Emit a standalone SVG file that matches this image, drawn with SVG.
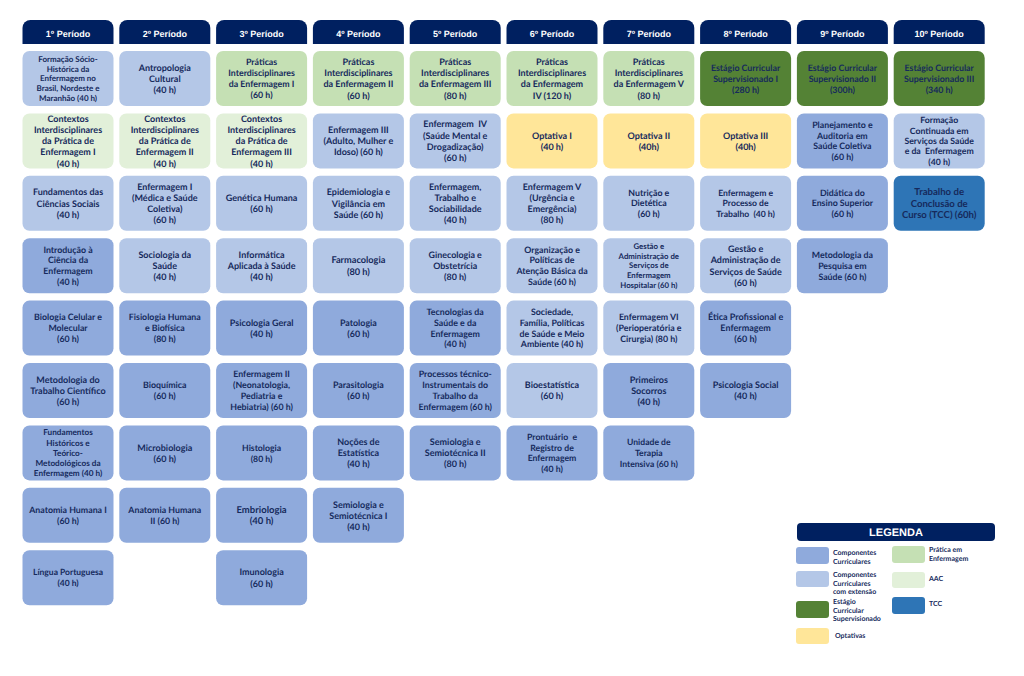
<svg xmlns="http://www.w3.org/2000/svg" width="1024" height="676" viewBox="0 0 1024 676" text-rendering="geometricPrecision">
<style>
.hd{fill:#002060}
.ht{font-family:"Liberation Sans",Arial,sans-serif;font-weight:bold;font-size:9px;fill:#fff;text-anchor:middle}
.b{rx:7;ry:7}
.cc{fill:#8faadc}
.ce{fill:#b4c7e7}
.pr{fill:#c5e0b4}
.aac{fill:#e2f0d9}
.es{fill:#548235}
.tcc{fill:#2e75b6}
.op{fill:#ffe699}
text.c{font-family:Lato,"Open Sans",sans-serif;font-weight:bold;fill:#162a5c;text-anchor:middle}
.lg{font-family:Lato,"Open Sans",sans-serif;font-weight:bold;font-size:7px;fill:#162a5c}
</style>
<rect width="1024" height="676" fill="#fff"/>
<g id="headers">
<path class="hd" d="M22.5 44V28A8 8 0 0 1 30.5 20H105.5A8 8 0 0 1 113.5 28V44Z"/><text class="ht" x="68" y="37">1º Período</text>
<path class="hd" d="M119.3 44V28A8 8 0 0 1 127.3 20H202.3A8 8 0 0 1 210.3 28V44Z"/><text class="ht" x="164.8" y="37">2º Período</text>
<path class="hd" d="M216.1 44V28A8 8 0 0 1 224.1 20H299.1A8 8 0 0 1 307.1 28V44Z"/><text class="ht" x="261.6" y="37">3º Período</text>
<path class="hd" d="M312.9 44V28A8 8 0 0 1 320.9 20H395.9A8 8 0 0 1 403.9 28V44Z"/><text class="ht" x="358.4" y="37">4º Período</text>
<path class="hd" d="M409.7 44V28A8 8 0 0 1 417.7 20H492.7A8 8 0 0 1 500.7 28V44Z"/><text class="ht" x="455.2" y="37">5º Período</text>
<path class="hd" d="M506.5 44V28A8 8 0 0 1 514.5 20H589.5A8 8 0 0 1 597.5 28V44Z"/><text class="ht" x="552" y="37">6º Período</text>
<path class="hd" d="M603.3 44V28A8 8 0 0 1 611.3 20H686.3A8 8 0 0 1 694.3 28V44Z"/><text class="ht" x="648.8" y="37">7º Período</text>
<path class="hd" d="M700.1 44V28A8 8 0 0 1 708.1 20H783.1A8 8 0 0 1 791.1 28V44Z"/><text class="ht" x="745.6" y="37">8º Período</text>
<path class="hd" d="M796.9 44V28A8 8 0 0 1 804.9 20H879.9A8 8 0 0 1 887.9 28V44Z"/><text class="ht" x="842.4" y="37">9º Período</text>
<path class="hd" d="M893.7 44V28A8 8 0 0 1 901.7 20H976.7A8 8 0 0 1 984.7 28V44Z"/><text class="ht" x="939.2" y="37">10º Período</text>
</g>
<g id="connectors"/>

<!-- Column 1 -->
<g id="c1r1"><rect class="b ce" x="22.5" y="51" width="91" height="55"/><text class="c" font-size="8" x="68" y="61.7"><tspan x="68">Formação Sócio-</tspan><tspan x="68" dy="9.8">Histórica da</tspan><tspan x="68" dy="9.8">Enfermagem no</tspan><tspan x="68" dy="9.8">Brasil, Nordeste e</tspan><tspan x="68" dy="9.8">Maranhão (40 h)</tspan></text></g>
<g id="c1r2"><rect class="b aac" x="22.5" y="113.4" width="91" height="55"/><text class="c" font-size="9" x="68" y="121.7"><tspan x="68">Contextos</tspan><tspan x="68" dy="11.2">Interdisciplinares</tspan><tspan x="68" dy="11.2">da Prática de</tspan><tspan x="68" dy="11.2">Enfermagem I</tspan><tspan x="68" dy="11.2">(40 h)</tspan></text></g>
<g id="c1r3"><rect class="b ce" x="22.5" y="175.8" width="91" height="55"/><text class="c" font-size="9" x="68" y="195.3"><tspan x="68">Fundamentos das</tspan><tspan x="68" dy="11.2">Ciências Sociais</tspan><tspan x="68" dy="11.2">(40 h)</tspan></text></g>
<g id="c1r4"><rect class="b cc" x="22.5" y="238.2" width="91" height="55"/><text class="c" font-size="8.8" x="68" y="252.5"><tspan x="68">Introdução à</tspan><tspan x="68" dy="10.8">Ciência da</tspan><tspan x="68" dy="10.8">Enfermagem</tspan><tspan x="68" dy="10.8">(40 h)</tspan></text></g>
<g id="c1r5"><rect class="b cc" x="22.5" y="300.6" width="91" height="55"/><text class="c" font-size="8.8" x="68" y="320.2"><tspan x="68">Biologia Celular e</tspan><tspan x="68" dy="11">Molecular</tspan><tspan x="68" dy="11">(60 h)</tspan></text></g>
<g id="c1r6"><rect class="b cc" x="22.5" y="363" width="91" height="55"/><text class="c" font-size="9" x="68" y="382.5"><tspan x="68">Metodologia do</tspan><tspan x="68" dy="11.2">Trabalho Científico</tspan><tspan x="68" dy="11.2">(60 h)</tspan></text></g>
<g id="c1r7"><rect class="b cc" x="22.5" y="425.4" width="91" height="55"/><text class="c" font-size="8.2" x="68" y="435.2"><tspan x="68">Fundamentos</tspan><tspan x="68" dy="10.3">Históricos e</tspan><tspan x="68" dy="10.3">Teórico-</tspan><tspan x="68" dy="10.3">Metodológicos da</tspan><tspan x="68" dy="10.3">Enfermagem (40 h)</tspan></text></g>
<g id="c1r8"><rect class="b cc" x="22.5" y="487.8" width="91" height="55"/><text class="c" font-size="8.8" x="68" y="512.9"><tspan x="68">Anatomia Humana I</tspan><tspan x="68" dy="10.8">(60 h)</tspan></text></g>
<g id="c1r9"><rect class="b cc" x="22.5" y="550.2" width="91" height="55"/><text class="c" font-size="8.5" x="68" y="575.2"><tspan x="68">Língua Portuguesa</tspan><tspan x="68" dy="10.8">(40 h)</tspan></text></g>

<!-- Column 2 -->
<g id="c2r1"><rect class="b ce" x="119.3" y="51" width="91" height="55"/><text class="c" font-size="9" x="164.8" y="70.5"><tspan x="164.8">Antropologia</tspan><tspan x="164.8" dy="11.2">Cultural</tspan><tspan x="164.8" dy="11.2">(40 h)</tspan></text></g>
<g id="c2r2"><rect class="b aac" x="119.3" y="113.4" width="91" height="55"/><text class="c" font-size="9" x="164.8" y="121.7"><tspan x="164.8">Contextos</tspan><tspan x="164.8" dy="11.2">Interdisciplinares</tspan><tspan x="164.8" dy="11.2">da Prática de</tspan><tspan x="164.8" dy="11.2">Enfermagem II</tspan><tspan x="164.8" dy="11.2">(40 h)</tspan></text></g>
<g id="c2r3"><rect class="b ce" x="119.3" y="175.8" width="91" height="55"/><text class="c" font-size="9" x="164.8" y="189.7"><tspan x="164.8">Enfermagem I</tspan><tspan x="164.8" dy="11.2">(Médica e Saúde</tspan><tspan x="164.8" dy="11.2">Coletiva)</tspan><tspan x="164.8" dy="11.2">(60 h)</tspan></text></g>
<g id="c2r4"><rect class="b ce" x="119.3" y="238.2" width="91" height="55"/><text class="c" font-size="9" x="164.8" y="257.7"><tspan x="164.8">Sociologia da</tspan><tspan x="164.8" dy="11.2">Saúde</tspan><tspan x="164.8" dy="11.2">(40 h)</tspan></text></g>
<g id="c2r5"><rect class="b cc" x="119.3" y="300.6" width="91" height="55"/><text class="c" font-size="8.8" x="164.8" y="320.2"><tspan x="164.8">Fisiologia Humana</tspan><tspan x="164.8" dy="11">e Biofísica</tspan><tspan x="164.8" dy="11">(80 h)</tspan></text></g>
<g id="c2r6"><rect class="b cc" x="119.3" y="363" width="91" height="55"/><text class="c" font-size="8.8" x="164.8" y="388.1"><tspan x="164.8">Bioquímica</tspan><tspan x="164.8" dy="10.8">(60 h)</tspan></text></g>
<g id="c2r7"><rect class="b cc" x="119.3" y="425.4" width="91" height="55"/><text class="c" font-size="9" x="164.8" y="450.5"><tspan x="164.8">Microbiologia</tspan><tspan x="164.8" dy="11.2">(60 h)</tspan></text></g>
<g id="c2r8"><rect class="b cc" x="119.3" y="487.8" width="91" height="55"/><text class="c" font-size="8.8" x="164.8" y="512.9"><tspan x="164.8">Anatomia Humana</tspan><tspan x="164.8" dy="10.8">II (60 h)</tspan></text></g>

<!-- Column 3 -->
<g id="c3r1"><rect class="b pr" x="216.1" y="51" width="91" height="55"/><text class="c" font-size="8.8" x="261.6" y="65.3"><tspan x="261.6">Práticas</tspan><tspan x="261.6" dy="10.8">Interdisciplinares</tspan><tspan x="261.6" dy="10.8">da Enfermagem I</tspan><tspan x="261.6" dy="10.8">(60 h)</tspan></text></g>
<g id="c3r2"><rect class="b aac" x="216.1" y="113.4" width="91" height="55"/><text class="c" font-size="9" x="261.6" y="121.7"><tspan x="261.6">Contextos</tspan><tspan x="261.6" dy="11.2">Interdisciplinares</tspan><tspan x="261.6" dy="11.2">da Prática de</tspan><tspan x="261.6" dy="11.2">Enfermagem III</tspan><tspan x="261.6" dy="11.2">(40 h)</tspan></text></g>
<g id="c3r3"><rect class="b ce" x="216.1" y="175.8" width="91" height="55"/><text class="c" font-size="9" x="261.6" y="200.9"><tspan x="261.6">Genética Humana</tspan><tspan x="261.6" dy="11.2">(60 h)</tspan></text></g>
<g id="c3r4"><rect class="b ce" x="216.1" y="238.2" width="91" height="55"/><text class="c" font-size="9" x="261.6" y="257.7"><tspan x="261.6">Informática</tspan><tspan x="261.6" dy="11.2">Aplicada à Saúde</tspan><tspan x="261.6" dy="11.2">(40 h)</tspan></text></g>
<g id="c3r5"><rect class="b cc" x="216.1" y="300.6" width="91" height="55"/><text class="c" font-size="9" x="261.6" y="325.7"><tspan x="261.6">Psicologia Geral</tspan><tspan x="261.6" dy="11.2">(40 h)</tspan></text></g>
<g id="c3r6"><rect class="b cc" x="216.1" y="363" width="91" height="55"/><text class="c" font-size="8.8" x="261.6" y="377.3"><tspan x="261.6">Enfermagem II</tspan><tspan x="261.6" dy="10.8">(Neonatologia,</tspan><tspan x="261.6" dy="10.8">Pediatria e</tspan><tspan x="261.6" dy="10.8">Hebiatria) (60 h)</tspan></text></g>
<g id="c3r7"><rect class="b cc" x="216.1" y="425.4" width="91" height="55"/><text class="c" font-size="8.7" x="261.6" y="450.5"><tspan x="261.6">Histologia</tspan><tspan x="261.6" dy="11">(80 h)</tspan></text></g>
<g id="c3r8"><rect class="b cc" x="216.1" y="487.8" width="91" height="55"/><text class="c" font-size="9.5" x="261.6" y="512.9"><tspan x="261.6">Embriologia</tspan><tspan x="261.6" dy="11.5">(40 h)</tspan></text></g>
<g id="c3r9"><rect class="b cc" x="216.1" y="550.2" width="91" height="55"/><text class="c" font-size="9" x="261.6" y="575.3"><tspan x="261.6">Imunologia</tspan><tspan x="261.6" dy="11.2">(60 h)</tspan></text></g>

<!-- Column 4 -->
<g id="c4r1"><rect class="b pr" x="312.9" y="51" width="91" height="55"/><text class="c" font-size="9" x="358.4" y="64.9"><tspan x="358.4">Práticas</tspan><tspan x="358.4" dy="11.2">Interdisciplinares</tspan><tspan x="358.4" dy="11.2">da Enfermagem II</tspan><tspan x="358.4" dy="11.2">(60 h)</tspan></text></g>
<g id="c4r2"><rect class="b ce" x="312.9" y="113.4" width="91" height="55"/><text class="c" font-size="9" x="358.4" y="132.9"><tspan x="358.4">Enfermagem III</tspan><tspan x="358.4" dy="11.2">(Adulto, Mulher e</tspan><tspan x="358.4" dy="11.2">Idoso) (60 h)</tspan></text></g>
<g id="c4r3"><rect class="b ce" x="312.9" y="175.8" width="91" height="55"/><text class="c" font-size="9" x="358.4" y="195.3"><tspan x="358.4">Epidemiologia e</tspan><tspan x="358.4" dy="11.2">Vigilância em</tspan><tspan x="358.4" dy="11.2">Saúde (60 h)</tspan></text></g>
<g id="c4r4"><rect class="b ce" x="312.9" y="238.2" width="91" height="55"/><text class="c" font-size="9.2" x="358.4" y="263.3"><tspan x="358.4">Farmacologia</tspan><tspan x="358.4" dy="11.2">(80 h)</tspan></text></g>
<g id="c4r5"><rect class="b cc" x="312.9" y="300.6" width="91" height="55"/><text class="c" font-size="8.9" x="358.4" y="325.7"><tspan x="358.4">Patologia</tspan><tspan x="358.4" dy="11">(60 h)</tspan></text></g>
<g id="c4r6"><rect class="b cc" x="312.9" y="363" width="91" height="55"/><text class="c" font-size="8.9" x="358.4" y="388.1"><tspan x="358.4">Parasitologia</tspan><tspan x="358.4" dy="11">(60 h)</tspan></text></g>
<g id="c4r7"><rect class="b cc" x="312.9" y="425.4" width="91" height="55"/><text class="c" font-size="9" x="358.4" y="444.9"><tspan x="358.4">Noções de</tspan><tspan x="358.4" dy="11.2">Estatística</tspan><tspan x="358.4" dy="11.2">(40 h)</tspan></text></g>
<g id="c4r8"><rect class="b cc" x="312.9" y="487.8" width="91" height="55"/><text class="c" font-size="9" x="358.4" y="507.5"><tspan x="358.4">Semiologia e</tspan><tspan x="358.4" dy="11">Semiotécnica I</tspan><tspan x="358.4" dy="11">(40 h)</tspan></text></g>

<!-- Column 5 -->
<g id="c5r1"><rect class="b pr" x="409.7" y="51" width="91" height="55"/><text class="c" font-size="9" x="455.2" y="64.9"><tspan x="455.2">Práticas</tspan><tspan x="455.2" dy="11.2">Interdisciplinares</tspan><tspan x="455.2" dy="11.2">da Enfermagem III</tspan><tspan x="455.2" dy="11.2">(80 h)</tspan></text></g>
<g id="c5r2"><rect class="b ce" x="409.7" y="113.4" width="91" height="55"/><text class="c" font-size="9" x="455.2" y="127.3" xml:space="preserve"><tspan x="455.2">Enfermagem  IV</tspan><tspan x="455.2" dy="11.2">(Saúde Mental e</tspan><tspan x="455.2" dy="11.2">Drogadização)</tspan><tspan x="455.2" dy="11.2">(60 h)</tspan></text></g>
<g id="c5r3"><rect class="b ce" x="409.7" y="175.8" width="91" height="55"/><text class="c" font-size="9" x="455.2" y="189.7"><tspan x="455.2">Enfermagem,</tspan><tspan x="455.2" dy="11.2">Trabalho e</tspan><tspan x="455.2" dy="11.2">Sociabilidade</tspan><tspan x="455.2" dy="11.2">(40 h)</tspan></text></g>
<g id="c5r4"><rect class="b ce" x="409.7" y="238.2" width="91" height="55"/><text class="c" font-size="8.9" x="455.2" y="257.8"><tspan x="455.2">Ginecologia e</tspan><tspan x="455.2" dy="11">Obstetrícia</tspan><tspan x="455.2" dy="11">(80 h)</tspan></text></g>
<g id="c5r5"><rect class="b cc" x="409.7" y="300.6" width="91" height="55"/><text class="c" font-size="8.8" x="455.2" y="315"><tspan x="455.2">Tecnologias da</tspan><tspan x="455.2" dy="10.8">Saúde e da</tspan><tspan x="455.2" dy="10.8">Enfermagem</tspan><tspan x="455.2" dy="10.8">(40 h)</tspan></text></g>
<g id="c5r6"><rect class="b cc" x="409.7" y="363" width="91" height="55"/><text class="c" font-size="8.8" x="455.2" y="377.4"><tspan x="455.2">Processos técnico-</tspan><tspan x="455.2" dy="10.8">Instrumentais do</tspan><tspan x="455.2" dy="10.8">Trabalho da</tspan><tspan x="455.2" dy="10.8">Enfermagem (60 h)</tspan></text></g>
<g id="c5r7"><rect class="b cc" x="409.7" y="425.4" width="91" height="55"/><text class="c" font-size="9" x="455.2" y="445"><tspan x="455.2">Semiologia e</tspan><tspan x="455.2" dy="11">Semiotécnica II</tspan><tspan x="455.2" dy="11">(80 h)</tspan></text></g>

<!-- Column 6 -->
<g id="c6r1"><rect class="b pr" x="506.5" y="51" width="91" height="55"/><text class="c" font-size="9" x="552" y="64.9"><tspan x="552">Práticas</tspan><tspan x="552" dy="11.2">Interdisciplinares</tspan><tspan x="552" dy="11.2">da Enfermagem</tspan><tspan x="552" dy="11.2">IV (120 h)</tspan></text></g>
<g id="c6r2"><rect class="b op" x="506.5" y="113.4" width="91" height="55"/><text class="c" font-size="9" x="552" y="138.5"><tspan x="552">Optativa I</tspan><tspan x="552" dy="11.2">(40 h)</tspan></text></g>
<g id="c6r3"><rect class="b ce" x="506.5" y="175.8" width="91" height="55"/><text class="c" font-size="9" x="552" y="189.7"><tspan x="552">Enfermagem V</tspan><tspan x="552" dy="11.2">(Urgência e</tspan><tspan x="552" dy="11.2">Emergência)</tspan><tspan x="552" dy="11.2">(80 h)</tspan></text></g>
<g id="c6r4"><rect class="b ce" x="506.5" y="238.2" width="91" height="55"/><text class="c" font-size="8.8" x="552" y="252.5"><tspan x="552">Organização e</tspan><tspan x="552" dy="10.8">Políticas de</tspan><tspan x="552" dy="10.8">Atenção Básica da</tspan><tspan x="552" dy="10.8">Saúde (60 h)</tspan></text></g>
<g id="c6r5"><rect class="b ce" x="506.5" y="300.6" width="91" height="55"/><text class="c" font-size="8.8" x="552" y="314.9"><tspan x="552">Sociedade,</tspan><tspan x="552" dy="10.8">Família, Políticas</tspan><tspan x="552" dy="10.8">de Saúde e Meio</tspan><tspan x="552" dy="10.8">Ambiente (40 h)</tspan></text></g>
<g id="c6r6"><rect class="b ce" x="506.5" y="363" width="91" height="55"/><text class="c" font-size="9" x="552" y="388.1"><tspan x="552">Bioestatística</tspan><tspan x="552" dy="11.2">(60 h)</tspan></text></g>
<g id="c6r7"><rect class="b cc" x="506.5" y="425.4" width="91" height="55"/><text class="c" font-size="8.7" x="552" y="439.8" xml:space="preserve"><tspan x="552">Prontuário  e</tspan><tspan x="552" dy="10.8">Registro de</tspan><tspan x="552" dy="10.8">Enfermagem</tspan><tspan x="552" dy="10.8">(40 h)</tspan></text></g>

<!-- Column 7 -->
<g id="c7r1"><rect class="b pr" x="603.3" y="51" width="91" height="55"/><text class="c" font-size="9" x="648.8" y="64.9"><tspan x="648.8">Práticas</tspan><tspan x="648.8" dy="11.2">Interdisciplinares</tspan><tspan x="648.8" dy="11.2">da Enfermagem V</tspan><tspan x="648.8" dy="11.2">(80 h)</tspan></text></g>
<g id="c7r2"><rect class="b op" x="603.3" y="113.4" width="91" height="55"/><text class="c" font-size="9" x="648.8" y="138.5"><tspan x="648.8">Optativa II</tspan><tspan x="648.8" dy="11.2">(40h)</tspan></text></g>
<g id="c7r3"><rect class="b ce" x="603.3" y="175.8" width="91" height="55"/><text class="c" font-size="8.8" x="648.8" y="195.5"><tspan x="648.8">Nutrição e</tspan><tspan x="648.8" dy="10.8">Dietética</tspan><tspan x="648.8" dy="10.8">(60 h)</tspan></text></g>
<g id="c7r4"><rect class="b ce" x="603.3" y="238.2" width="91" height="55"/><text class="c" font-size="7.8" x="648.8" y="249.2"><tspan x="648.8">Gestão e</tspan><tspan x="648.8" dy="9.6">Administração de</tspan><tspan x="648.8" dy="9.6">Serviços de</tspan><tspan x="648.8" dy="9.6">Enfermagem</tspan><tspan x="648.8" dy="9.6">Hospitalar (60 h)</tspan></text></g>
<g id="c7r5"><rect class="b ce" x="603.3" y="300.6" width="91" height="55"/><text class="c" font-size="8.8" x="648.8" y="320.3"><tspan x="648.8">Enfermagem VI</tspan><tspan x="648.8" dy="10.8">(Perioperatória e</tspan><tspan x="648.8" dy="10.8">Cirurgia) (80 h)</tspan></text></g>
<g id="c7r6"><rect class="b cc" x="603.3" y="363" width="91" height="55"/><text class="c" font-size="9" x="648.8" y="382.5"><tspan x="648.8">Primeiros</tspan><tspan x="648.8" dy="11.2">Socorros</tspan><tspan x="648.8" dy="11.2">(40 h)</tspan></text></g>
<g id="c7r7"><rect class="b cc" x="603.3" y="425.4" width="91" height="55"/><text class="c" font-size="8.6" x="648.8" y="445.1"><tspan x="648.8">Unidade de</tspan><tspan x="648.8" dy="10.8">Terapia</tspan><tspan x="648.8" dy="10.8">Intensiva (60 h)</tspan></text></g>

<!-- Column 8 -->
<g id="c8r1"><rect class="b es" x="700.1" y="51" width="91" height="55"/><text class="c" font-size="8.8" x="745.6" y="70.6"><tspan x="745.6">Estágio Curricular</tspan><tspan x="745.6" dy="11">Supervisionado I</tspan><tspan x="745.6" dy="11">(280 h)</tspan></text></g>
<g id="c8r2"><rect class="b op" x="700.1" y="113.4" width="91" height="55"/><text class="c" font-size="9" x="745.6" y="138.5"><tspan x="745.6">Optativa III</tspan><tspan x="745.6" dy="11.2">(40h)</tspan></text></g>
<g id="c8r3"><rect class="b ce" x="700.1" y="175.8" width="91" height="55"/><text class="c" font-size="8.6" x="745.6" y="195.5" xml:space="preserve"><tspan x="745.6">Enfermagem e</tspan><tspan x="745.6" dy="10.8">Processo de</tspan><tspan x="745.6" dy="10.8">Trabalho  (40 h)</tspan></text></g>
<g id="c8r4"><rect class="b ce" x="700.1" y="238.2" width="91" height="55"/><text class="c" font-size="9" x="745.6" y="252.1"><tspan x="745.6">Gestão e</tspan><tspan x="745.6" dy="11.2">Administração de</tspan><tspan x="745.6" dy="11.2">Serviços de Saúde</tspan><tspan x="745.6" dy="11.2">(60 h)</tspan></text></g>
<g id="c8r5"><rect class="b cc" x="700.1" y="300.6" width="91" height="55"/><text class="c" font-size="9" x="745.6" y="320.3"><tspan x="745.6">Ética Profissional e</tspan><tspan x="745.6" dy="11">Enfermagem</tspan><tspan x="745.6" dy="11">(60 h)</tspan></text></g>
<g id="c8r6"><rect class="b cc" x="700.1" y="363" width="91" height="55"/><text class="c" font-size="9" x="745.6" y="388.1"><tspan x="745.6">Psicologia Social</tspan><tspan x="745.6" dy="11.2">(40 h)</tspan></text></g>

<!-- Column 9 -->
<g id="c9r1"><rect class="b es" x="796.9" y="51" width="91" height="55"/><text class="c" font-size="8.8" x="842.4" y="70.6"><tspan x="842.4">Estágio Curricular</tspan><tspan x="842.4" dy="11">Supervisionado II</tspan><tspan x="842.4" dy="11">(300h)</tspan></text></g>
<g id="c9r2"><rect class="b cc" x="796.9" y="113.4" width="91" height="55"/><text class="c" font-size="8.8" x="842.4" y="127.7"><tspan x="842.4">Planejamento e</tspan><tspan x="842.4" dy="10.8">Auditoria em</tspan><tspan x="842.4" dy="10.8">Saúde Coletiva</tspan><tspan x="842.4" dy="10.8">(60 h)</tspan></text></g>
<g id="c9r3"><rect class="b cc" x="796.9" y="175.8" width="91" height="55"/><text class="c" font-size="8.8" x="842.4" y="195.5"><tspan x="842.4">Didática do</tspan><tspan x="842.4" dy="10.8">Ensino Superior</tspan><tspan x="842.4" dy="10.8">(60 h)</tspan></text></g>
<g id="c9r4"><rect class="b cc" x="796.9" y="238.2" width="91" height="55"/><text class="c" font-size="8.8" x="842.4" y="257.9"><tspan x="842.4">Metodologia da</tspan><tspan x="842.4" dy="10.8">Pesquisa em</tspan><tspan x="842.4" dy="10.8">Saúde (60 h)</tspan></text></g>

<!-- Column 10 -->
<g id="c10r1"><rect class="b es" x="893.7" y="51" width="91" height="55"/><text class="c" font-size="8.8" x="939.2" y="70.6"><tspan x="939.2">Estágio Curricular</tspan><tspan x="939.2" dy="11">Supervisionado III</tspan><tspan x="939.2" dy="11">(340 h)</tspan></text></g>
<g id="c10r2"><rect class="b ce" x="893.7" y="113.4" width="91" height="55"/><text class="c" font-size="8.7" x="939.2" y="123.2" xml:space="preserve"><tspan x="939.2">Formação</tspan><tspan x="939.2" dy="10.4">Continuada em</tspan><tspan x="939.2" dy="10.4">Serviços da Saúde</tspan><tspan x="939.2" dy="10.4">e da  Enfermagem</tspan><tspan x="939.2" dy="10.4">(40 h)</tspan></text></g>
<g id="c10r3"><rect class="b tcc" x="893.7" y="175.8" width="91" height="55"/><text class="c" font-size="9.6" x="939.2" y="195.2"><tspan x="939.2">Trabalho de</tspan><tspan x="939.2" dy="11.5">Conclusão de</tspan><tspan x="939.2" dy="11.5">Curso (TCC) (60h)</tspan></text></g>

<!-- Legend -->
<g id="legend">
<rect x="797" y="523" width="198" height="18" rx="4" fill="#002060"/>
<text x="896" y="536" font-family="Liberation Sans, Arial, sans-serif" font-weight="bold" font-size="11" fill="#fff" text-anchor="middle">LEGENDA</text>
<rect class="cc" x="796" y="547" width="33" height="17" rx="3"/>
<text class="lg" x="833" y="555"><tspan x="833">Componentes</tspan><tspan x="833" dy="8.5">Curriculares</tspan></text>
<rect class="ce" x="796" y="571" width="33" height="16" rx="3"/>
<text class="lg" x="833" y="577"><tspan x="833">Componentes</tspan><tspan x="833" dy="8.5">Curriculares</tspan><tspan x="833" dy="8.5">com extensão</tspan></text>
<rect class="es" x="796" y="601" width="33" height="17" rx="3"/>
<text class="lg" x="833" y="604"><tspan x="833">Estágio</tspan><tspan x="833" dy="8.5">Curricular</tspan><tspan x="833" dy="8.5">Supervisionado</tspan></text>
<rect class="op" x="796" y="628" width="33" height="16" rx="3"/>
<text class="lg" x="835" y="638">Optativas</text>
<rect class="pr" x="892" y="546" width="33" height="17" rx="3"/>
<text class="lg" x="929" y="552"><tspan x="929">Prática em</tspan><tspan x="929" dy="8.5">Enfermagem</tspan></text>
<rect class="aac" x="892" y="572" width="33" height="16" rx="3"/>
<text class="lg" x="929" y="581">AAC</text>
<rect class="tcc" x="892" y="597" width="33" height="17" rx="3"/>
<text class="lg" x="929" y="606">TCC</text>
</g>
</svg>
